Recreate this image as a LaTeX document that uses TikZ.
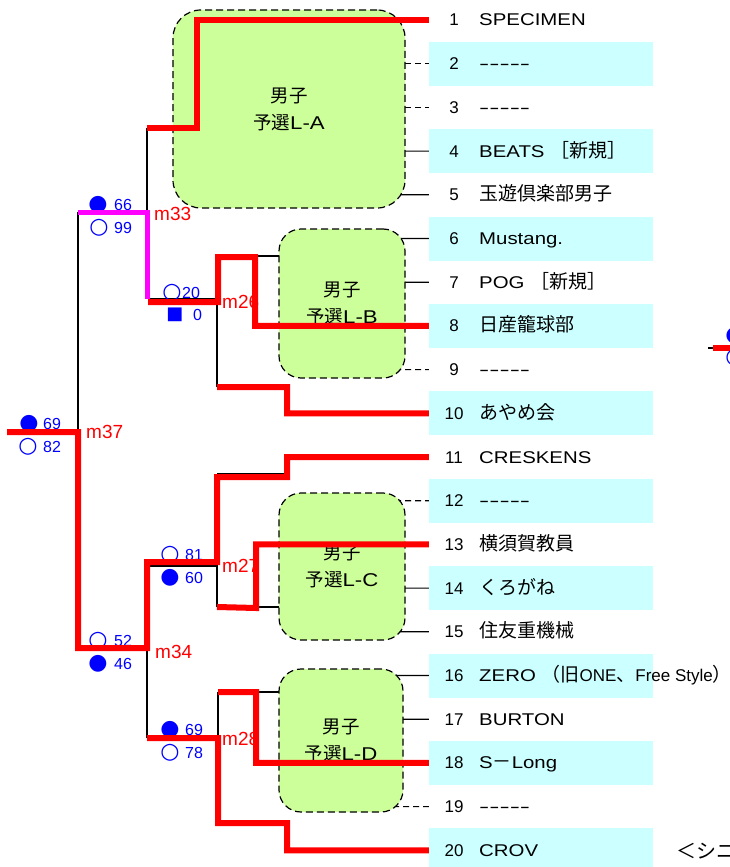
\documentclass[tikz,border=0pt]{standalone}
\usepackage{fontspec}
\setmainfont{Liberation Sans}
\newfontfamily\cjk{Noto Sans CJK JP}
\newfontfamily\latw{Liberation Sans}[FakeStretch=1.2]
\newfontfamily\lat{Liberation Sans}
\newfontfamily\sym{DejaVu Sans}
\usetikzlibrary{calc}
\definecolor{rowcyan}{HTML}{CCFFFF}
\definecolor{boxgreen}{HTML}{CCFF99}
\definecolor{lblue}{HTML}{0000FF}
\definecolor{mred}{HTML}{FF0000}
\definecolor{mmag}{HTML}{FF00FF}
\newcommand\J[1]{{\cjk\fontsize{19}{22}\selectfont #1}}
\newcommand\dsh{\scalebox{1.5}[1]{-----}}
\begin{document}
\begin{tikzpicture}[x=1pt,y=-1pt,
  thinl/.style={line width=1.2pt, black},
  dashl/.style={line width=1.2pt, black, dash pattern=on 6pt off 4pt},
  win/.style={line width=6pt, mred, line join=miter},
  mag/.style={line width=5pt, mmag, line join=miter},
  rowbox/.style={minimum width=224pt, minimum height=44pt, inner sep=0pt, draw=none},
  num/.style={inner sep=0pt, font=\fontsize{17}{20}\selectfont, text height=12pt, text depth=0pt},
  nm/.style={anchor=west, inner sep=0pt, font=\fontsize{17}{20}\selectfont\latw, text height=12pt, text depth=0pt},
  grp/.style={draw=black, line width=1.2pt, dash pattern=on 7pt off 4pt, fill=boxgreen, align=center, inner sep=0pt, font=\fontsize{18.5}{27}\selectfont},
  mlab/.style={anchor=west, inner sep=0pt, text=mred, font=\fontsize{19}{20}\selectfont, text height=13.6pt, text depth=0pt},
  bsym/.style={inner sep=0pt, text=lblue, font=\sym\fontsize{22}{22}\selectfont},
  bsq/.style={inner sep=0pt, text=lblue, font=\sym\fontsize{18}{18}\selectfont},
  bnum/.style={anchor=west, inner sep=0pt, text=lblue, font=\fontsize{16}{16}\selectfont, text height=11.4pt, text depth=0pt}
]
\useasboundingbox (0,0) rectangle (730,867);
\clip (0,0) rectangle (730,867);

% team rows
\foreach \i/\f/\nmtext in {1/none/{SPECIMEN}, 2/rowcyan/{\dsh}, 3/none/{\dsh},
  4/rowcyan/{BEATS \J{［新規］}}, 5/none/{\J{玉遊倶楽部男子}}, 6/rowcyan/{Mustang.},
  7/none/{POG \J{［新規］}}, 8/rowcyan/{\J{日産籠球部}}, 9/none/{\dsh},
  10/rowcyan/{\J{あやめ会}}, 11/none/{CRESKENS}, 12/rowcyan/{\dsh},
  13/none/{\J{横須賀教員}}, 14/rowcyan/{\J{くろがね}}, 15/none/{\J{住友重機械}},
  16/rowcyan/{ZERO \J{（旧}{\lat ONE}\J{、}{\lat Free Style}\J{）}}, 17/none/{BURTON},
  18/rowcyan/{S\J{－}Long}, 19/none/{\dsh}, 20/rowcyan/{CROV}} {
  \pgfmathsetmacro\yy{20+(\i-1)*43.7}
  \node[rowbox, fill=\f] (row\i) at (541,\yy) {};
  \node[num] (n\i) at (454,\yy) {\i};
  \node[nm] (t\i) at (479,\yy) {\nmtext};
}

% junction coordinates
\coordinate (j37L) at (7,432);
\coordinate (j37) at (78,432);
\coordinate (j37t) at (78,212);
\coordinate (j37b) at (78,648);
\coordinate (j33) at (147,212);
\coordinate (j33t) at (147,128);
\coordinate (j33b) at (147,298.5);
\coordinate (j26) at (217,298.5);
\coordinate (j26t) at (217,256);
\coordinate (j26b) at (217,387);
\coordinate (j34) at (147,648);
\coordinate (j34t) at (147,566);
\coordinate (j34b) at (147,738);
\coordinate (j27) at (217,566);
\coordinate (j27t) at (217,473.5);
\coordinate (j27b) at (217,607);
\coordinate (j28) at (218,738);
\coordinate (j28t) at (218,692);
\coordinate (j28b) at (218,823);

% group box centres
\path (289,109) coordinate (cA) (342,303.5) coordinate (cB) (342,566.5) coordinate (cC) (341,740.5) coordinate (cD);

% connectors from groups to rows
\draw[dashl] (395,63.7) -- (row2.west);
\draw[dashl] (395,107.4) -- (row3.west);
\draw[thinl] (395,151.1) -- (row4.west);
\draw[thinl] (395,194.8) -- (row5.west);
\draw[thinl] (395,238.5) -- (row6.west);
\draw[thinl] (395,282.2) -- (row7.west);
\draw[dashl] (395,369.6) -- (row9.west);
\draw[dashl] (395,500.7) -- (row12.west);
\draw[thinl] (395,588.1) -- (row14.west);
\draw[thinl] (395,631.8) -- (row15.west);
\draw[thinl] (393,675.5) -- (row16.west);
\draw[thinl] (393,719.2) -- (row17.west);
\draw[dashl] (393,806.6) -- (row19.west);

% bracket lines
\draw[thinl] (j37L) -- (j37);
\draw[thinl] (j37t) -- (j37b);
\draw[thinl] (j37t) -- (j33);
\draw[thinl] (j33t) -- (j33b);
\draw[thinl] (j33b) -- (j26);
\draw[thinl] (j26t) -- (j26b);
\draw[thinl] (j26t) -- (279,256);
\draw[thinl] (j34t) -- (j34b);
\draw[thinl] (j34t) -- (j27);
\draw[thinl] (j27t) -- (j27b);
\draw[thinl] (j27t) -- (287,473.5);
\draw[thinl] (j27b) -- (279,607);
\draw[thinl] (j28t) -- (j28b);
\draw[thinl] (j28t) -- (279,692);

% group boxes
\node[grp, rounded corners=28pt, minimum width=232pt, minimum height=198pt] (grpA) at (cA) {{\cjk 男子}\\{\cjk 予選}{\latw L-A}};
\node[grp, rounded corners=22pt, minimum width=126pt, minimum height=149pt] (grpB) at (cB) {{\cjk 男子}\\{\cjk 予選}{\latw L-B}};
\node[grp, rounded corners=22pt, minimum width=126pt, minimum height=147pt] (grpC) at (cC) {{\cjk 男子}\\{\cjk 予選}{\latw L-C}};
\node[grp, rounded corners=22pt, minimum width=124pt, minimum height=143pt] (grpD) at (cD) {{\cjk 男子}\\{\cjk 予選}{\latw L-D}};

% match labels
\node[mlab] (m37) at (86,432) {m37};
\node[mlab] (m33) at (154,214) {m33};
\node[mlab] (m26) at (222,302) {m26};
\node[mlab] (m34) at (155,652) {m34};
\node[mlab] (m27) at (222,566) {m27};
\node[mlab] (m28) at (222,739) {m28};

% scores
\node[bsym] (s37a) at (29,424) {●}; \node[bnum] (v37a) at (43,424) {69};
\node[bsym] (s37b) at (28,447) {○}; \node[bnum] (v37b) at (43,447) {82};
\node[bsym] (s33a) at (98,205) {●}; \node[bnum] (v33a) at (114,205) {66};
\node[bsym] (s33b) at (99,228) {○}; \node[bnum] (v33b) at (114,228) {99};
\node[bsym] (s26a) at (172,293) {○}; \node[bnum] (v26a) at (182,293) {20};
\node[bsq] (s26b) at (175,315) {■}; \node[bnum] (v26b) at (193,315) {0};
\node[bsym] (s27a) at (170,555) {○}; \node[bnum] (v27a) at (185,555) {81};
\node[bsym] (s27b) at (170,578) {●}; \node[bnum] (v27b) at (185,578) {60};
\node[bsym] (s34a) at (98,641) {○}; \node[bnum] (v34a) at (114,641) {52};
\node[bsym] (s34b) at (98,664) {●}; \node[bnum] (v34b) at (114,664) {46};
\node[bsym] (s28a) at (170,730) {●}; \node[bnum] (v28a) at (185,730) {69};
\node[bsym] (s28b) at (170,753) {○}; \node[bnum] (v28b) at (185,753) {78};

% winning paths
\draw[mag] (j37t) -- (j33) -- (j33b);
\draw[win] (j37L) -- (j37) -- (j37b) -- (j34) -- (147,562) -- (217,562) -- (217,477) -- (287,477) -- (287,457) -- (row11.west);
\draw[win] (j33t) -- (197,128) -- (197,20) -- (row1.west);
\draw[win] (row8.west) -- (255,325.9) -- (255,257) -- (218,257) -- (218,302) -- (148,302);
\draw[win] (j26b) -- (287,387) -- (287,413.3) -- (row10.west);
\draw[win] (row13.west) -- (256,544.4) -- (256,608) -- (j27b);
\draw[win] (row18.west) -- (256,762.9) -- (256,692) -- (j28t);
\draw[win] (row20.west) -- (287,850.3) -- (287,823) -- (j28b) -- (j28) -- (j34b);

% fragment at right edge
\coordinate (fr) at (708,348);
\coordinate (fr2) at (713,348);
\draw[thinl] (fr) -- (fr2);
\draw[win] (fr2) -- (740,348);
\node[bsym] (sRa) at (735,336) {●};
\node[bsym] (sRb) at (735,358) {○};

% note at bottom right
\node[anchor=west, inner sep=0pt, font=\cjk\fontsize{20}{22}\selectfont] (note) at (676,851) {＜シニ};
\end{tikzpicture}
\end{document}
